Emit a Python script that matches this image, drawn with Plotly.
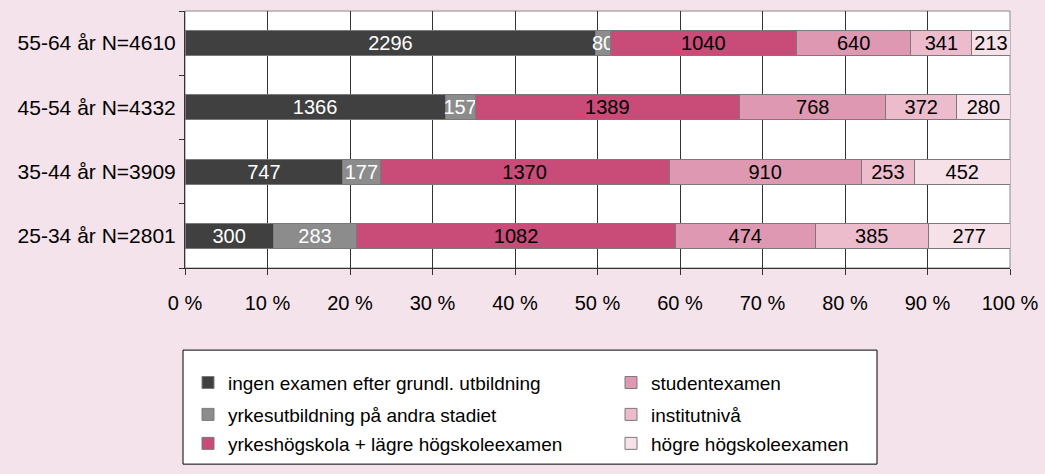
import plotly.graph_objects as go

categories = ["25-34 år N=2801", "35-44 år N=3909", "45-54 år N=4332", "55-64 år N=4610"]
series_names = ["ingen examen efter grundl. utbildning",
                "yrkesutbildning på andra stadiet",
                "yrkeshögskola + lägre högskoleexamen",
                "studentexamen",
                "institutnivå",
                "högre högskoleexamen"]
ingen = [300, 747, 1366, 2296]
yrkesutb = [283, 177, 157, 80]
yrkeshogsk = [1082, 1370, 1389, 1040]
student = [474, 910, 768, 640]
institut = [385, 253, 372, 341]
hogre = [277, 452, 280, 213]
series_values = [ingen, yrkesutb, yrkeshogsk, student, institut, hogre]
pct_ticks = [0, 10, 20, 30, 40, 50, 60, 70, 80, 90, 100]
pct_labels = [f"{t} %" for t in pct_ticks]

colors = ["#404040", "#8c8c8c", "#c84b78", "#df98b1", "#ecbccd", "#f6e1e9"]
text_colors = ["white", "white", "black", "black", "black", "black"]
edge = "#7a7a7a"
bg = "#f4e3ea"
font_family = "Liberation Sans, Arial, sans-serif"

# each legend entry gets its own legend so it can sit in the 2x3 grid
legend_ids = ['legend', 'legend2', 'legend3', 'legend4', 'legend5', 'legend6']
legend_left = [188, 188, 188, 611, 611, 611]
legend_top = [376, 409, 439, 376, 409, 439]

fig = go.Figure()
for i, (name, vals) in enumerate(zip(series_names, series_values)):
    fig.add_trace(go.Bar(
        x=vals, y=categories, name=name, orientation='h',
        text=[str(v) for v in vals], textposition='inside',
        insidetextanchor='middle', textangle=0, constraintext='none',
        textfont=dict(size=20, color=text_colors[i], family=font_family),
        marker=dict(color=colors[i], line=dict(color=edge, width=1)),
        legend=legend_ids[i], showlegend=True,
        cliponaxis=False,
    ))

legends = {}
for lid, lx, ly in zip(legend_ids, legend_left, legend_top):
    legends[lid] = dict(
        orientation='v',
        x=(lx - 185) / 825, xanchor='left',
        y=(277 - ly) / 266, yanchor='top',
        bgcolor='rgba(0,0,0,0)', borderwidth=0,
        font=dict(size=19, family=font_family),
    )

fig.update_layout(
    width=1045, height=474,
    showlegend=True,
    barmode='stack', barnorm='percent', bargap=0.61,
    paper_bgcolor=bg, plot_bgcolor='white',
    margin=dict(l=185, r=35, t=11, b=197),
    font=dict(family=font_family, size=20, color='black'),
    uniformtext=dict(minsize=20, mode='show'),
    **legends,
)
fig.update_xaxes(
    range=[0, 100.0001], tickvals=pct_ticks, ticktext=pct_labels,
    showgrid=True, gridcolor='#333333', gridwidth=1,
    ticks='outside', ticklen=6, tickcolor='#333333',
    showline=True, linecolor='#333333', linewidth=1,
    ticklabelstandoff=11, zeroline=False, automargin=False,
)
fig.update_yaxes(
    categoryorder='array', categoryarray=categories,
    tickson='boundaries', ticks='outside', ticklen=5, tickcolor='#333333',
    showline=True, linecolor='#333333', linewidth=1,
    showgrid=False, ticklabelstandoff=4, automargin=False,
    tickfont=dict(size=21),
)
# grey frame on top/right of plot area
fig.add_shape(type='rect', xref='paper', yref='paper', x0=0, x1=1, y0=0, y1=1,
              line=dict(color='#888888', width=1), layer='below')
# legend box (bottom edge runs off the image)
fig.add_shape(type='rect', xref='paper', yref='paper',
              x0=(183 - 185) / 825, x1=(877 - 185) / 825,
              y0=(277 - 480) / 266, y1=(277 - 362) / 266,
              fillcolor='white', line=dict(color='black', width=1), layer='below')

fig.write_html("out.html", config={'displayModeBar': False},
               post_script="document.body.style.margin='0';")
